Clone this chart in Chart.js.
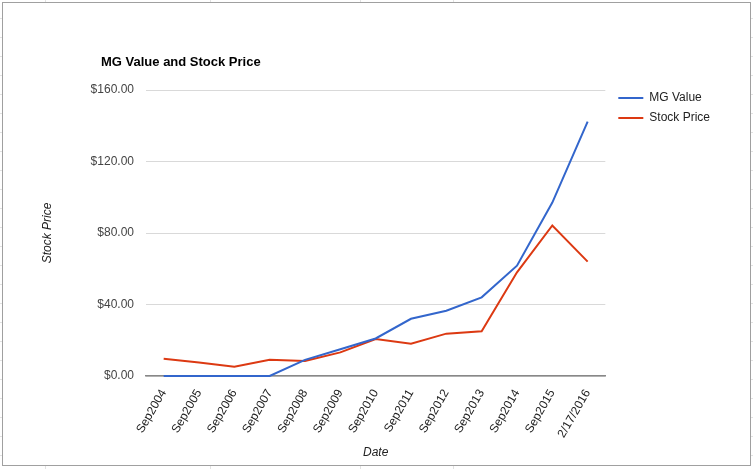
<!DOCTYPE html>
<html>
<head>
<meta charset="utf-8">
<script src="https://cdn.jsdelivr.net/npm/chart.js@4.4.1/dist/chart.umd.min.js"></script>
<style>
  html, body { margin: 0; padding: 0; }
  body {
    width: 753px; height: 469px; position: relative; overflow: hidden;
    background-color: #fff;
    background-image:
      repeating-linear-gradient(to bottom, transparent 0, transparent 18px, #e2e2e2 18px, #e2e2e2 19px),
      linear-gradient(to right, transparent 45px, #e2e2e2 45px, #e2e2e2 46px, transparent 46px,
                      transparent 210px, #e2e2e2 210px, #e2e2e2 211px, transparent 211px,
                      transparent 360px, #e2e2e2 360px, #e2e2e2 361px, transparent 361px,
                      transparent 453px, #e2e2e2 453px, #e2e2e2 454px, transparent 454px);
  }
  #frame {
    position: absolute; left: 2px; top: 2px; width: 747px; height: 462px;
    border: 1px solid #a0a0a0; background: #fff;
  }
  canvas { position: absolute; left: 0; top: 0; }
</style>
</head>
<body>
<div id="frame"></div>
<canvas id="chart" width="753" height="469"></canvas>
<script>
const dates = ['Sep2004', 'Sep2005', 'Sep2006', 'Sep2007', 'Sep2008', 'Sep2009', 'Sep2010',
               'Sep2011', 'Sep2012', 'Sep2013', 'Sep2014', 'Sep2015', '2/17/2016'];
const mgValue = [0, 0, 0, 0, 9, 15, 21, 32, 36.5, 44, 61.7, 97, 142.3];
const stockPrice = [9.7, 7.5, 5.2, 9.1, 8.4, 13.2, 20.7, 18.1, 23.7, 25, 58, 84.2, 64];
const yTicks = [0, 40, 80, 120, 160];

const FONT = 'Arial, "Liberation Sans", sans-serif';

// title drawn left of the plot, like the sheets chart
const titlePlugin = {
  id: 'sheetTitle',
  afterDraw(chart) {
    const c = chart.ctx;
    c.save();
    c.font = 'bold 13px ' + FONT;
    c.fillStyle = '#000';
    c.textBaseline = 'middle';
    c.fillText('MG Value and Stock Price', chart.chartArea.left - 45, 62);
    c.restore();
  }
};

const ctx = document.getElementById('chart').getContext('2d');
const chart = new Chart(ctx, {
  type: 'line',
  data: {
    labels: dates,
    datasets: [
      {
        label: 'MG Value',
        data: mgValue,
        borderColor: '#3366cc',
        backgroundColor: '#3366cc',
        borderWidth: 2,
        pointRadius: 0,
        tension: 0,
        clip: false
      },
      {
        label: 'Stock Price',
        data: stockPrice,
        borderColor: '#dc3912',
        backgroundColor: '#dc3912',
        borderWidth: 2,
        pointRadius: 0,
        tension: 0,
        clip: false
      }
    ]
  },
  options: {
    responsive: false,
    animation: false,
    layout: { padding: { left: 36, top: 84, right: 33, bottom: 5 } },
    plugins: {
      legend: {
        position: 'right',
        align: 'start',
        labels: {
          usePointStyle: true,
          pointStyle: 'line',
          pointStyleWidth: 25,
          boxHeight: 12,
          padding: 8,
          color: '#222',
          font: { family: FONT, size: 12 }
        }
      },
      tooltip: { enabled: false }
    },
    scales: {
      x: {
        offset: true,
        grid: { display: false },
        border: { color: '#888', width: 1.5 },
        ticks: {
          color: '#222',
          font: { family: FONT, size: 12 },
          minRotation: 60,
          maxRotation: 60,
          autoSkip: false
        },
        title: {
          display: true,
          text: 'Date',
          color: '#222',
          font: { family: FONT, size: 12, style: 'italic' }
        },
        afterFit(scale) { scale.height = 88; }
      },
      y: {
        min: 0,
        max: 160,
        afterBuildTicks(scale) { scale.ticks = yTicks.map(v => ({ value: v })); },
        grid: { color: '#d9d9d9', drawTicks: false },
        border: { display: false },
        ticks: {
          color: '#444',
          padding: 12,
          font: { family: FONT, size: 12 },
          callback: v => '$' + v.toFixed(2)
        },
        title: {
          display: true,
          text: 'Stock Price',
          color: '#222',
          font: { family: FONT, size: 12, style: 'italic' }
        },
        afterFit(scale) {
          scale.width = 110;
          scale.paddingTop = 90; // push plot top below legend start
        }
      },
      // empty spacer between plot and legend
      gap: {
        type: 'linear',
        position: 'right',
        display: true,
        grid: { display: false },
        border: { display: false },
        ticks: { display: false },
        afterFit(scale) { scale.width = 5; }
      }
    }
  },
  plugins: [titlePlugin]
});
</script>
</body>
</html>
